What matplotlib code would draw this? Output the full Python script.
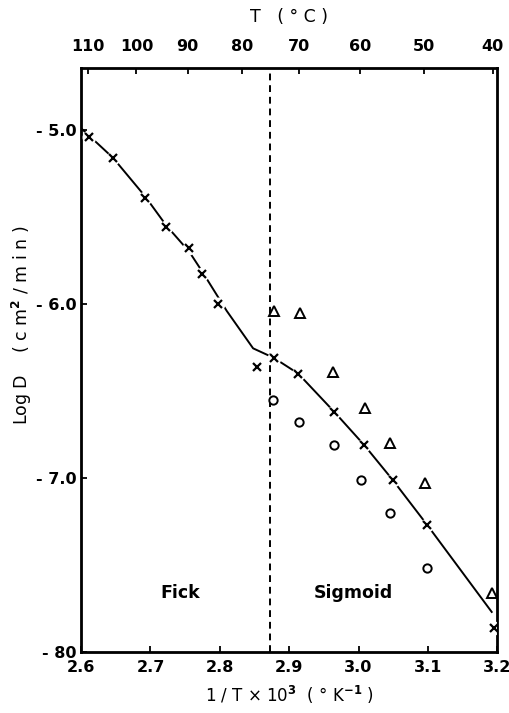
import numpy as np
import matplotlib
matplotlib.use("Agg")
import matplotlib.pyplot as plt

# Diffusion data, log D (cm^2/min) vs 1/T x 10^3
cross_x = [2.611, 2.646, 2.692, 2.723, 2.756, 2.774, 2.797, 2.854,
           2.878, 2.913, 2.965, 3.008, 3.049, 3.099, 3.195]
cross_y = [-5.04, -5.16, -5.39, -5.56, -5.68, -5.83, -6.00, -6.36,
           -6.31, -6.40, -6.62, -6.81, -7.01, -7.27, -7.86]

tri_x = [2.878, 2.915, 2.963, 3.009, 3.046, 3.096, 3.192]
tri_y = [-6.04, -6.05, -6.39, -6.60, -6.80, -7.03, -7.66]

circ_x = [2.876, 2.914, 2.964, 3.004, 3.046, 3.099]
circ_y = [-6.55, -6.68, -6.81, -7.01, -7.20, -7.52]

# fitted curve (Fick branch, kink, sigmoid branch)
curve_x = [2.600, 2.646, 2.692, 2.723, 2.756, 2.774, 2.810, 2.848,
           2.878, 2.913, 2.965, 3.008, 3.049, 3.099, 3.192]
curve_y = [-4.99, -5.16, -5.38, -5.55, -5.70, -5.81, -6.04, -6.255,
           -6.31, -6.40, -6.62, -6.81, -7.01, -7.27, -7.77]

# transition temperature
T_split = 75.0

top_T = [110, 100, 90, 80, 70, 60, 50, 40]
bottom_ticks = [2.6, 2.7, 2.8, 2.9, 3.0, 3.1, 3.2]
bottom_labels = ["2.6", "2.7", "2.8", "2.9", "3.0", "3.1", "3.2"]
left_ticks = [-5.0, -6.0, -7.0, -8.0]
left_labels = ["- 5.0", "- 6.0", "- 7.0", "- 80"]


def inv_T(t_c):
    return 1000.0 / (np.asarray(t_c, dtype=float) + 273.15)


plt.rcParams['font.family'] = ['DejaVu Sans']
plt.rcParams['font.weight'] = 'bold'

fig = plt.figure(figsize=(5.10, 7.13), dpi=100)
ax = fig.add_axes([0.159, 0.0856, 0.816, 0.819])

ax.plot(curve_x, curve_y, color='black', lw=1.4, zorder=2)
# white discs leave a small gap in the curve around each cross
ax.plot(cross_x, cross_y, ls='none', marker='o', ms=10, mfc='white',
        mec='none', zorder=3)
ax.plot(cross_x, cross_y, ls='none', marker='x', ms=6, mew=1.6,
        color='black', zorder=4)
ax.plot(tri_x, tri_y, ls='none', marker='^', ms=7.5, mfc='white',
        mec='black', mew=1.4, zorder=4)
ax.plot(circ_x, circ_y, ls='none', marker='o', ms=6, mfc='white',
        mec='black', mew=1.4, zorder=4)

ax.axvline(inv_T(T_split), color='black', lw=1.4, ls=(0, (3.5, 2.5)), zorder=1)

ax.text(2.714, -7.66, "Fick", fontsize=12.5, va='center', ha='left')
ax.text(2.935, -7.66, "Sigmoid", fontsize=12.5, va='center', ha='left')

ax.set_xlim(2.6, 3.2)
ax.set_ylim(-8.0, -4.644)
ax.set_xticks(bottom_ticks, bottom_labels)
ax.set_yticks(left_ticks, left_labels)
ax.tick_params(axis='x', direction='in', length=4, width=1.3, labelsize=11.5, pad=6)
ax.tick_params(axis='y', direction='in', length=4, width=1.3, labelsize=11.5, pad=3)
for s in ax.spines.values():
    s.set_linewidth(2.0)

ax.set_xlabel("1 / T \u00d7 10$^3$  ( \u00b0 K$^{-1}$ )", fontsize=12, labelpad=6)
ax.set_ylabel("Log D    ( c m$^2$ / m i n )", fontsize=12.5)
ax.yaxis.set_label_coords(-0.112, 0.56)

top = ax.twiny()
top.set_xlim(ax.get_xlim())
top.set_xticks(inv_T(top_T), [str(t) for t in top_T])
top.tick_params(direction='in', length=4, width=1.3, labelsize=11.5, pad=10)
top.set_xlabel("T   ( \u00b0 C )", fontsize=12.5, labelpad=12)

fig.savefig("out.png", dpi=100)
